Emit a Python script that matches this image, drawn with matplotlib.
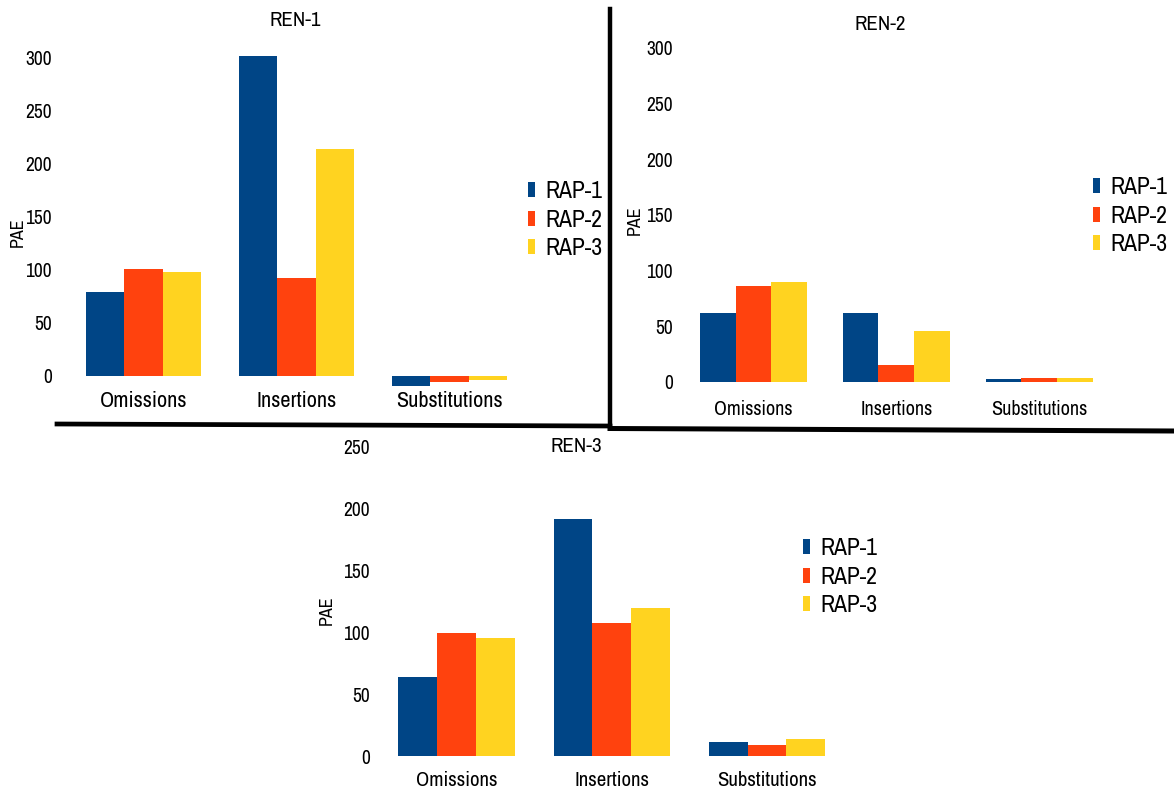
import matplotlib
matplotlib.use("Agg")
import matplotlib.pyplot as plt
from matplotlib.lines import Line2D
from matplotlib.patches import Patch
import numpy as np

plt.rcParams['font.family'] = ['Archivo Narrow', 'Liberation Sans', 'DejaVu Sans']

categories = ['Omissions', 'Insertions', 'Substitutions']
series = ['RAP-1', 'RAP-2', 'RAP-3']
colors = ['#004586', '#ff420e', '#ffd320']

ren1_rap1 = [79, 302, -9]
ren1_rap2 = [101, 92, -6]
ren1_rap3 = [98, 214, -4]

ren2_rap1 = [62, 62, 3]
ren2_rap2 = [86, 15, 4]
ren2_rap3 = [90, 46, 4]

ren3_rap1 = [64, 191, 11]
ren3_rap2 = [99, 107, 9]
ren3_rap3 = [95, 119, 14]

W, H = 1174, 790
fig = plt.figure(figsize=(W / 100, H / 100), dpi=100)


def px_axes(left, top, right, bottom):
    return fig.add_axes([left / W, (H - bottom) / H, (right - left) / W, (bottom - top) / H])


def panel(ax, data, ylim, yticks, ytick_pad, xlabel_size, xlabel_pad, legend_anchor):
    x = np.arange(len(categories))
    width = 0.25
    for i, (vals, col) in enumerate(zip(data, colors)):
        ax.bar(x + (i - 1) * width, vals, width, color=col, label=series[i])
    ax.set_xlim(-0.5, 2.5)
    ax.set_ylim(*ylim)
    ax.set_yticks(yticks)
    ax.set_xticks(x)
    ax.set_xticklabels(categories, fontsize=xlabel_size)
    ax.tick_params(axis='y', length=0, pad=ytick_pad, labelsize=14)
    ax.tick_params(axis='x', length=0, pad=xlabel_pad)
    for s in ax.spines.values():
        s.set_visible(False)
    handles = [Patch(facecolor=c, edgecolor='none') for c in colors]
    ax.legend(handles, series, loc='center left', bbox_to_anchor=legend_anchor,
              frameon=False, fontsize=17, handlelength=0.3, handleheight=0.6,
              handletextpad=0.45, labelspacing=0.32, borderpad=0, borderaxespad=0)


ax1 = px_axes(67, 47.4, 526, 388.7)
panel(ax1, [ren1_rap1, ren1_rap2, ren1_rap3], (-12, 310), range(0, 301, 50),
      11, 16, 1.5, (1.004, 0.494))

ax2 = px_axes(682, 42.2, 1110.5, 385.3)
panel(ax2, [ren2_rap1, ren2_rap2, ren2_rap3], (-3, 305), range(0, 301, 50),
      6.5, 14.5, 10.5, (0.959, 0.493))

ax3 = px_axes(378.9, 446, 844.6, 756)
panel(ax3, [ren3_rap1, ren3_rap2, ren3_rap3], (0, 250), range(0, 251, 50),
      6.5, 15, 10.5, (0.911, 0.577))

# panel titles and y labels
fig.text(295 / W, 1 - 21 / H, 'REN-1', ha='center', va='center', fontsize=15)
fig.text(880 / W, 1 - 24 / H, 'REN-2', ha='center', va='center', fontsize=15)
fig.text(576 / W, 1 - 447 / H, 'REN-3', ha='center', va='center', fontsize=15)
for (px, py) in [(18, 232), (635, 220), (327, 610)]:
    fig.text(px / W, 1 - py / H, 'PAE', ha='center', va='center', rotation=90, fontsize=13)

# divider lines between the panels
fig.add_artist(Line2D([610 / W, 610 / W], [1 - 9 / H, 1 - 426 / H], color='black', lw=3.2))
fig.add_artist(Line2D([57 / W, 610 / W], [1 - 424 / H, 1 - 426 / H], color='black', lw=3.4))
fig.add_artist(Line2D([610 / W, 1.0], [1 - 428.5 / H, 1 - 431 / H], color='black', lw=3.6))

fig.savefig('out.png', dpi=100)
